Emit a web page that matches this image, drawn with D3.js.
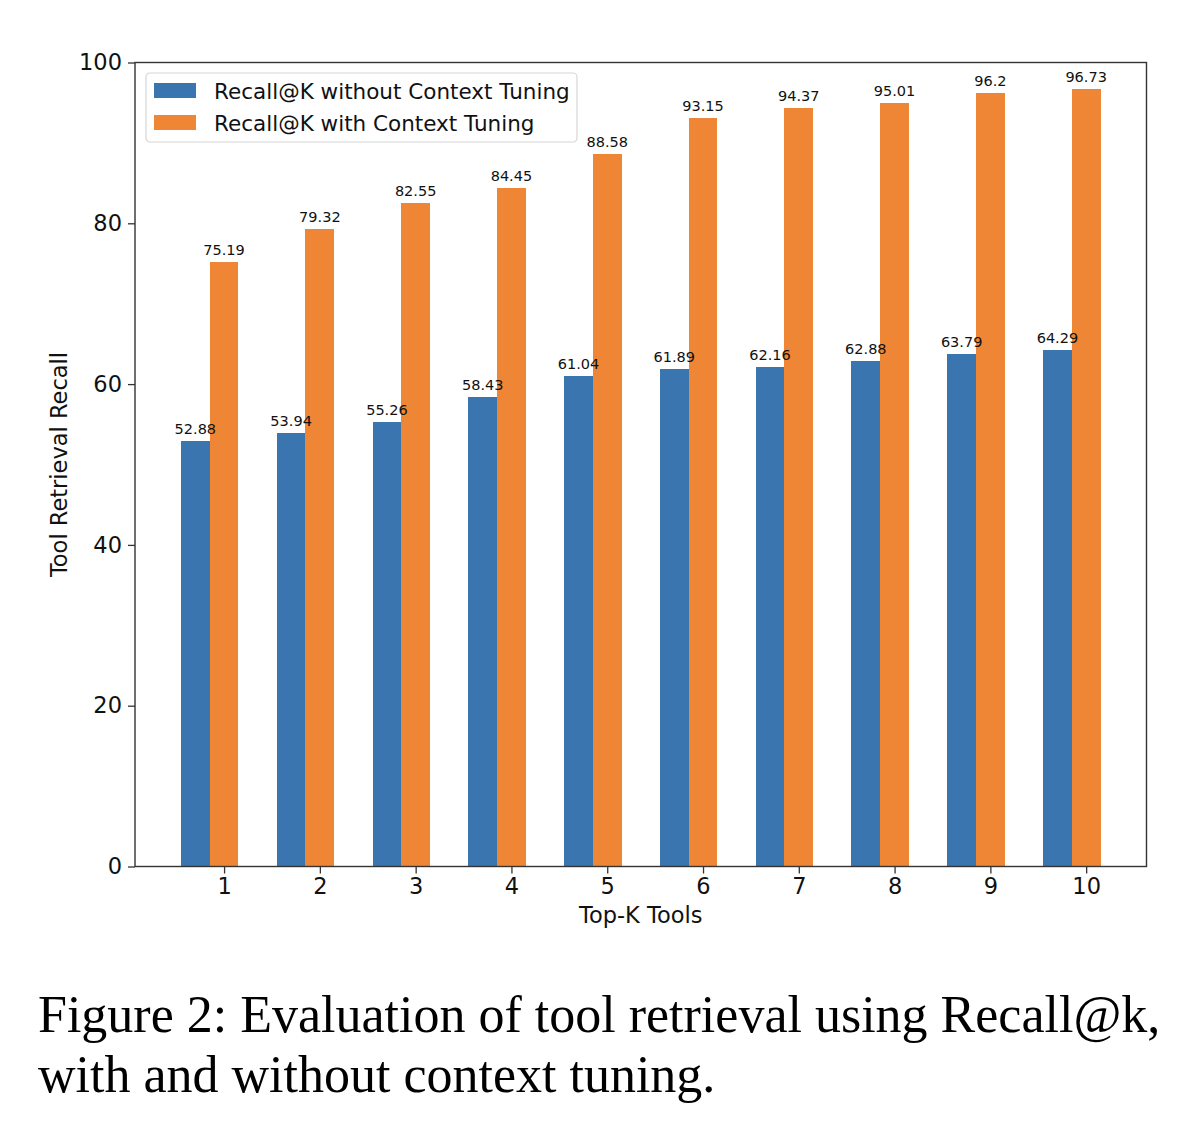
<!DOCTYPE html>
<head>
    <meta charset="utf-8" />
    <script src="https://d3js.org/d3.v7.min.js"></script>
    <style>
        body { margin: 0; background: #fff; }
        svg { display: block; }
        .tick text { font-family: "DejaVu Sans", sans-serif; fill: #111; }
    </style>
</head>
<body>
<div id="chart"></div>
<script>
    // data
    const topK = [1, 2, 3, 4, 5, 6, 7, 8, 9, 10];
    const recallWithout = [52.88, 53.94, 55.26, 58.43, 61.04, 61.89, 62.16, 62.88, 63.79, 64.29];
    const recallWith = [75.19, 79.32, 82.55, 84.45, 88.58, 93.15, 94.37, 95.01, 96.2, 96.73];
    const seriesNames = ["Recall@K without Context Tuning", "Recall@K with Context Tuning"];
    const colors = ["#3b75af", "#ef8636"];
    const yTicks = [0, 20, 40, 60, 80, 100];

    const W = 1200, H = 1140;
    const plot = { left: 135, right: 1146.5, top: 62.5, bottom: 866.5 };
    const barW = 0.3;

    const svg = d3.select("#chart").append("svg")
        .attr("width", W).attr("height", H);
    svg.append("rect").attr("width", W).attr("height", H).attr("fill", "#fff");

    // matplotlib-style 5% margins around the bars
    const xmin = 1 - barW - barW / 2, xmax = 10 + barW / 2;
    const pad = (xmax - xmin) * 0.05;
    const x = d3.scaleLinear().domain([xmin - pad, xmax + pad]).range([plot.left, plot.right]);
    const y = d3.scaleLinear().domain([0, 100]).range([plot.bottom, plot.top]);

    const gBars = svg.append("g").attr("shape-rendering", "crispEdges");
    const gLabels = svg.append("g");

    // bars: blue sits left of the tick, orange is centred on it
    const series = [recallWithout, recallWith];
    series.forEach(function(vals, s) {
        const off = s === 0 ? -barW : 0;
        gBars.selectAll(".bar" + s)
            .data(vals)
            .enter()
            .append("rect")
            .attr("x", function(d, i) { return x(topK[i] + off - barW / 2); })
            .attr("width", x(barW) - x(0) + (s === 0 ? 0.5 : 0))
            .attr("y", function(d) { return y(d); })
            .attr("height", function(d) { return y(0) - y(d); })
            .attr("fill", colors[s]);

        // labels go in a later group so they sit on top of the neighbouring bar
        gLabels.selectAll(".lab" + s)
            .data(vals)
            .enter()
            .append("text")
            .attr("x", function(d, i) { return x(topK[i] + off); })
            .attr("y", function(d) { return y(d) - 7; })
            .attr("text-anchor", "middle")
            .style("font-family", "DejaVu Sans, sans-serif")
            .style("font-size", "14.5px")
            .style("fill", "#111")
            .text(function(d) { return d; });
    });

    // axes
    const xAxis = d3.axisBottom(x).tickValues(topK).tickSize(7).tickPadding(5).tickFormat(d3.format("d"));
    const yAxis = d3.axisLeft(y).tickValues(yTicks).tickSize(7).tickPadding(6);

    const gx = svg.append("g").attr("transform", "translate(0," + plot.bottom + ")").call(xAxis);
    const gy = svg.append("g").attr("transform", "translate(" + plot.left + ",0)").call(yAxis);
    [gx, gy].forEach(function(a) {
        a.select(".domain").remove();
        a.selectAll(".tick line").attr("stroke", "#333").attr("stroke-width", 1.3);
        a.selectAll(".tick text").style("font-size", "22.5px");
    });

    // frame
    svg.append("rect")
        .attr("x", plot.left).attr("y", plot.top)
        .attr("width", plot.right - plot.left).attr("height", plot.bottom - plot.top)
        .attr("fill", "none").attr("stroke", "#333").attr("stroke-width", 1.4);

    // axis titles
    svg.append("text")
        .attr("x", (plot.left + plot.right) / 2).attr("y", 923)
        .attr("text-anchor", "middle")
        .style("font-family", "DejaVu Sans, sans-serif").style("font-size", "22.5px").style("fill", "#111")
        .text("Top-K Tools");
    svg.append("text")
        .attr("transform", "translate(67," + (plot.top + plot.bottom) / 2 + ") rotate(-90)")
        .attr("text-anchor", "middle")
        .style("font-family", "DejaVu Sans, sans-serif").style("font-size", "22.5px").style("fill", "#111")
        .text("Tool Retrieval Recall");

    // legend
    const lg = svg.append("g").attr("transform", "translate(146,73)");
    lg.append("rect")
        .attr("width", 431).attr("height", 69).attr("rx", 4)
        .attr("fill", "#fff").attr("fill-opacity", 0.8)
        .attr("stroke", "#d6d6d6").attr("stroke-width", 1.2);
    seriesNames.forEach(function(name, i) {
        lg.append("rect")
            .attr("x", 8).attr("y", 10 + i * 32)
            .attr("width", 42).attr("height", 15)
            .attr("fill", colors[i]);
        lg.append("text")
            .attr("x", 68).attr("y", 26 + i * 32)
            .style("font-family", "DejaVu Sans, sans-serif").style("font-size", "21.5px").style("fill", "#111")
            .text(name);
    });

    // caption
    const cap = svg.append("text")
        .style("font-family", "Liberation Serif, Times New Roman, serif")
        .style("font-size", "52px").style("fill", "#000");
    cap.append("tspan").attr("x", 38).attr("y", 1032).text("Figure 2: Evaluation of tool retrieval using Recall@k,");
    cap.append("tspan").attr("x", 38).attr("y", 1092).text("with and without context tuning.");
</script>
</body>
